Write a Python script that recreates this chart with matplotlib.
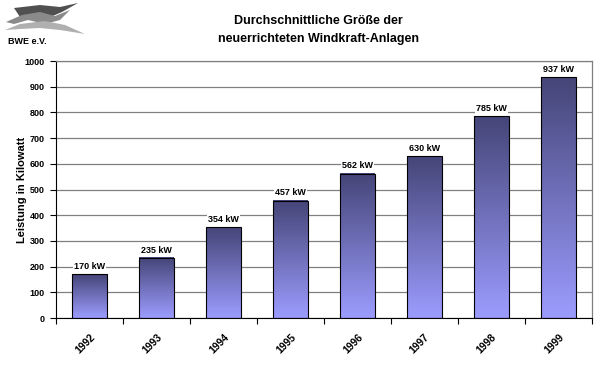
import numpy as np
import matplotlib
matplotlib.use("Agg")
import matplotlib.pyplot as plt
from matplotlib.patches import Polygon
from matplotlib.colors import LinearSegmentedColormap
import matplotlib.transforms as mtransforms

years = ["1992", "1993", "1994", "1995", "1996", "1997", "1998", "1999"]
values = [170, 235, 354, 457, 562, 630, 785, 937]
labels = ["170 kW", "235 kW", "354 kW", "457 kW", "562 kW", "630 kW", "785 kW", "937 kW"]

plt.rcParams['font.family'] = ['Liberation Sans', 'DejaVu Sans']

fig = plt.figure(figsize=(6, 3.66), dpi=100)
ax = fig.add_axes([0.0933, 0.1311, 0.8934, 0.7022])

cmap = LinearSegmentedColormap.from_list("g", ["#9c9cff", "#454578"])
grad = np.linspace(0, 1, 256).reshape(-1, 1)
x = np.arange(len(years))
w = 0.52
bars = ax.bar(x, values, width=w, color="none", edgecolor="black", linewidth=0.8, zorder=3)
for b in bars:
    x0, y0, bw, bh = b.get_x(), b.get_y(), b.get_width(), b.get_height()
    ax.imshow(grad, extent=[x0, x0 + bw, y0, y0 + bh], origin="lower", cmap=cmap,
              aspect="auto", zorder=2, interpolation="bicubic")

for xi, v, lab in zip(x, values, labels):
    ax.text(xi, v + 12, lab, ha="center", va="bottom", fontsize=6.5, fontweight="bold",
            bbox=dict(facecolor="white", edgecolor="none", pad=1), zorder=4)

ax.set_xlim(-0.5, len(years) - 0.5)
ax.set_ylim(0, 1000)
ax.set_yticks(np.arange(0, 1001, 100))
ax.yaxis.grid(True, color="#808080", linewidth=0.9, zorder=1)
ax.set_axisbelow(True)
ax.set_xticks(np.arange(-0.5, len(years), 1), minor=False)
ax.set_xticklabels([])
ax.set_xticks(x, minor=True)
ax.set_xticklabels(years, minor=True, rotation=45, ha="right", va="top",
                   fontsize=7.5, fontweight="bold", rotation_mode="anchor")
offset = mtransforms.ScaledTranslation(-4 / 100, 0, fig.dpi_scale_trans)
for t in ax.get_xticklabels(minor=True):
    t.set_transform(t.get_transform() + offset)
ax.tick_params(axis="x", which="minor", length=0, pad=10)
ax.tick_params(axis="x", which="major", length=4, direction="out")
ax.tick_params(axis="y", labelsize=6.5, length=4, pad=4)
for t in ax.get_yticklabels():
    t.set_fontweight("bold")
for s in ["top", "right"]:
    ax.spines[s].set_color("#808080")
    ax.spines[s].set_linewidth(0.9)

fig.text(22 / 600, 1 - 190 / 366, "Leistung in Kilowatt", rotation=90, ha="center",
         va="center", fontsize=8, fontweight="bold")

fig.text(0.53, 0.943, "Durchschnittliche Größe der", ha="center", va="center",
         fontsize=9, fontweight="bold")
fig.text(0.53, 0.893, "neuerrichteten Windkraft-Anlagen", ha="center", va="center",
         fontsize=9, fontweight="bold")

# logo approximation
def fp(pts, color):
    fig.patches.append(Polygon([(px / 600, 1 - py / 366) for px, py in pts], closed=True,
                               transform=fig.transFigure, facecolor=color, edgecolor="none"))
fp([(14, 8), (40, 5), (60, 7), (78, 3), (62, 12), (48, 18), (35, 14), (20, 17)], "#505050")
fp([(6, 22), (22, 15), (40, 12), (55, 16), (70, 10), (60, 20), (45, 24), (28, 20), (14, 24)], "#8a8a8a")
fp([(5, 30), (20, 24), (45, 21), (65, 25), (85, 34), (60, 30), (40, 28), (20, 29)], "#b0b0b0")
fig.text(8 / 600, 1 - 42 / 366, "BWE e.V.", fontsize=6.5, fontweight="bold", va="center")

fig.savefig("out.png", dpi=100)
